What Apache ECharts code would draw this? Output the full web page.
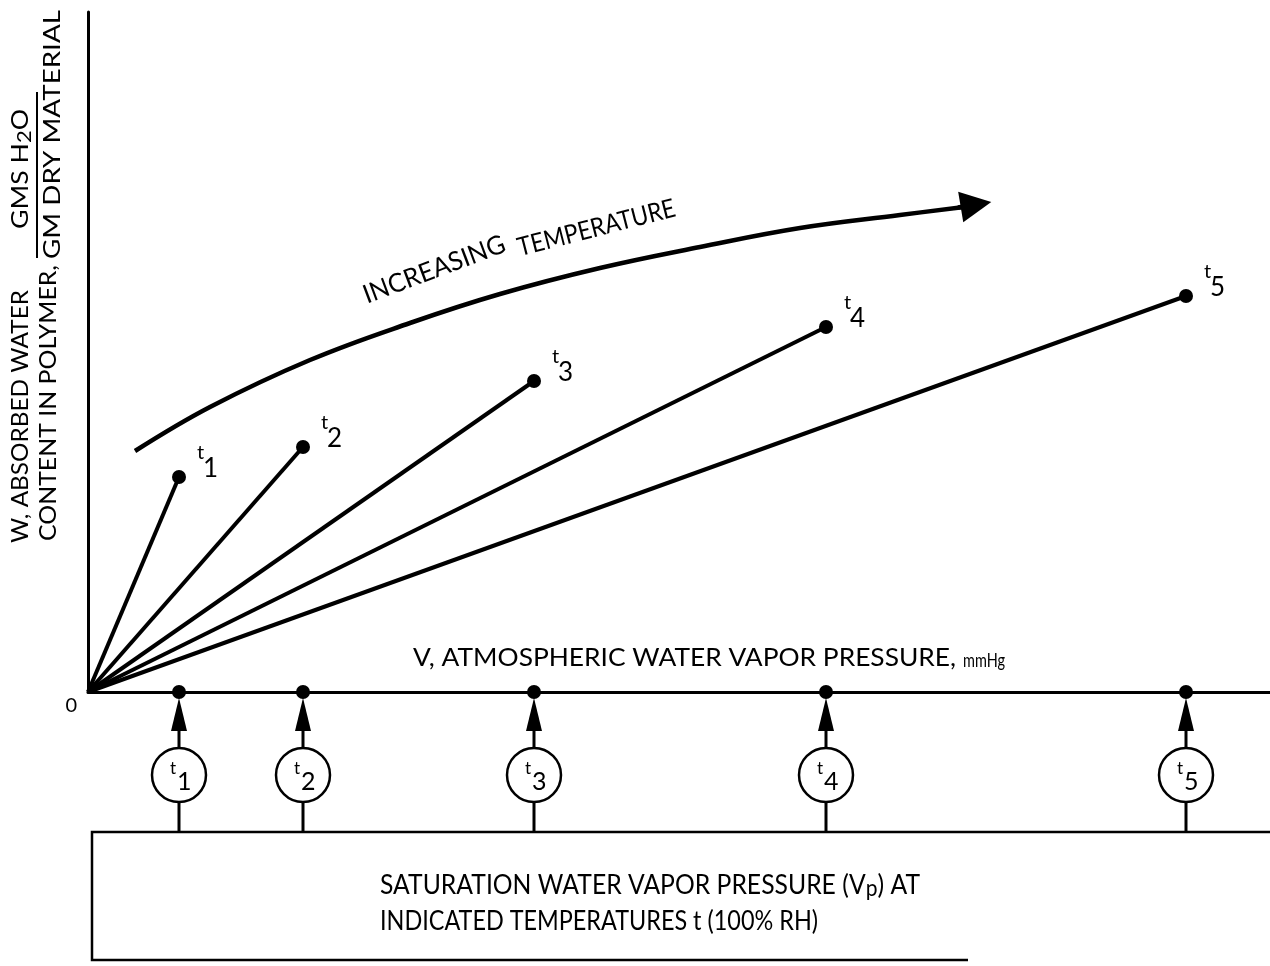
<!DOCTYPE html>
<html><head><meta charset="utf-8">
<script src="https://cdn.jsdelivr.net/npm/echarts@6/dist/echarts.min.js"></script>
<style>html,body{margin:0;padding:0;background:#fff}#c{width:1270px;height:966px}</style>
</head><body><div id="c"></div>
<script>
// ---- data (schematic, arbitrary units) ----
const tempIndex = ['1', '2', '3', '4', '5'];
const saturationPressure = [91, 215, 446, 738, 1098];   // Vp at t1..t5
const absorbedWater = [215, 245, 311, 365, 396];        // W at Vp for t1..t5
const trendCurve = [[47, 241], [122, 285], [222, 332], [322, 369], [412, 398], [512, 424], [612, 445], [712, 464], [812, 477], [876, 485]];
const trendArrow = [[870, 484.5], [888, 487.5]];
const xName = 'V, ATMOSPHERIC WATER VAPOR PRESSURE,';
const xUnit = 'mmHg';
const yNameLine1 = 'W, ABSORBED WATER';
const yNameLine2 = 'CONTENT IN POLYMER,';
const yNumer = ['GMS H', '2', 'O'];
const yDenom = 'GM DRY MATERIAL';
const trendWords = ['INCREASING', 'TEMPERATURE'];
const boxLine1 = ['SATURATION WATER VAPOR PRESSURE (V', 'p', ') AT'];
const boxLine2 = 'INDICATED TEMPERATURES t (100% RH)';
const X_MAX = 1182, Y_MAX = 680;

const FONT = 'Lato';
const chart = echarts.init(document.getElementById('c'), null, {renderer: 'canvas'});

// text width measuring (layout helper)
const mctx = document.createElement('canvas').getContext('2d');
function textW(s, size) { mctx.font = size + 'px ' + FONT; return mctx.measureText(s).width; }

const tRich = {
  t: {fontFamily: FONT, fontSize: 20, lineHeight: 10, color: '#000'},
  d: {fontFamily: FONT, fontSize: 26, lineHeight: 22, color: '#000', padding: [0, 0, 0, 6]}
};
const cRich = {
  t: {fontFamily: FONT, fontSize: 17, lineHeight: 14, fill: '#000'},
  d: {fontFamily: FONT, fontSize: 25, lineHeight: 12, fill: '#000', padding: [0, 0, 0, 7]}
};

const lineSeries = saturationPressure.map((vp, i) => ({
  type: 'line',
  name: 't' + tempIndex[i],
  data: [[0, 0], [vp, absorbedWater[i]]],
  symbol: 'circle',
  symbolSize: (v, p) => p.dataIndex === 0 ? 0 : 14,
  showAllSymbol: true,
  lineStyle: {color: '#000', width: 4},
  itemStyle: {color: '#000'},
  silent: true,
  z: 3,
  label: {
    show: true, position: 'right', distance: 4, offset: [7, -13],
    formatter: p => p.dataIndex === 1 ? '{t|t}\n{d|' + tempIndex[i] + '}' : '',
    rich: tRich
  }
}));

const bottomSeries = {
  type: 'custom',
  silent: true,
  clip: false,
  z: 4,
  data: saturationPressure.map((v, i) => [v, 0, i]),
  renderItem: function (params, api) {
    const p = api.coord([api.value(0), 0]);
    const x = p[0], y = p[1];
    const idx = api.value(2);
    const cy = y + 83, r = 27;
    const boxTop = 832;
    return {
      type: 'group',
      children: [
        {type: 'line', shape: {x1: x, y1: y + 30, x2: x, y2: cy - r}, style: {stroke: '#000', lineWidth: 3}},
        {type: 'polygon', shape: {points: [[x, y + 6], [x - 8, y + 39], [x + 8, y + 39]]}, style: {fill: '#000'}},
        {type: 'circle', shape: {cx: x, cy: cy, r: r}, style: {fill: '#fff', stroke: '#000', lineWidth: 2.5}},
        {type: 'text', x: x - 9, y: cy, style: {text: '{t|t}\n{d|' + tempIndex[idx] + '}', rich: cRich, align: 'left', verticalAlign: 'middle', fill: '#000'}},
        {type: 'line', shape: {x1: x, y1: cy + r, x2: x, y2: boxTop}, style: {stroke: '#000', lineWidth: 3}},
        {type: 'circle', shape: {cx: x, cy: y, r: 7}, style: {fill: '#000'}}
      ]
    };
  }
};

const trendSeries = {
  type: 'line',
  data: trendCurve,
  smooth: 0.4,
  symbol: 'none',
  lineStyle: {color: '#000', width: 4.5},
  silent: true,
  z: 2
};
const arrowSeries = {
  type: 'lines',
  coordinateSystem: 'cartesian2d',
  data: [{coords: trendArrow}],
  symbol: ['none', 'triangle'],
  symbolSize: [17, 31],
  lineStyle: {color: '#000', width: 4.5, opacity: 1},
  silent: true,
  z: 2
};

// text fitted to a given run length (scaleX along its own direction)
function fitTxt(x, y, text, size, length, rotDeg) {
  return {
    type: 'text', x: x, y: y, rotation: (rotDeg || 0) * Math.PI / 180, scaleX: length / textW(text, size), silent: true,
    style: {text: text, fontFamily: FONT, fontSize: size, fill: '#000', align: 'left', verticalAlign: 'middle'}
  };
}

const Y_FONT = 23;
const BOX_FONT = 27;
const numerW = textW(yNumer[0], Y_FONT) + textW(yNumer[1], 19) + textW(yNumer[2], Y_FONT);
const box1W = textW(boxLine1[0], BOX_FONT) + textW(boxLine1[1], 23) + textW(boxLine1[2], BOX_FONT);

const option = {
  animation: false,
  backgroundColor: '#fff',
  grid: {left: 88, right: 0, top: 12, bottom: 274, containLabel: false},
  xAxis: {
    type: 'value', min: 0, max: X_MAX,
    axisLine: {show: true, onZero: true, lineStyle: {color: '#000', width: 3}},
    axisTick: {show: false}, axisLabel: {show: false}, splitLine: {show: false}
  },
  yAxis: {
    type: 'value', min: 0, max: Y_MAX, interval: Y_MAX,
    axisLine: {show: true, lineStyle: {color: '#000', width: 3}},
    axisTick: {show: false}, splitLine: {show: false},
    axisLabel: {show: true, formatter: v => v === 0 ? '0' : '', color: '#000', fontFamily: FONT, fontSize: 20, verticalAlign: 'top', padding: [4, 0, 0, 0], margin: 11}
  },
  series: [trendSeries, arrowSeries].concat(lineSeries, [bottomSeries]),
  graphic: [
    // y-axis name (rotated)
    fitTxt(21, 543, yNameLine1, Y_FONT, 253, 90),
    fitTxt(49, 541, yNameLine2, Y_FONT, 276, 90),
    {
      type: 'text', x: 21, y: 229, rotation: Math.PI / 2, scaleX: 120 / numerW, silent: true,
      style: {
        text: '{a|' + yNumer[0] + '}{s|' + yNumer[1] + '}{a|' + yNumer[2] + '}',
        align: 'left', verticalAlign: 'middle', fill: '#000',
        rich: {
          a: {fontFamily: FONT, fontSize: Y_FONT, lineHeight: 26},
          s: {fontFamily: FONT, fontSize: 19, lineHeight: 16, padding: [15, 0, 0, 0], verticalAlign: 'bottom'}
        }
      }
    },
    {type: 'line', silent: true, shape: {x1: 37, y1: 258, x2: 37, y2: 92}, style: {stroke: '#000', lineWidth: 2}},
    fitTxt(53, 259, yDenom, Y_FONT, 249, 90),
    // x-axis name
    fitTxt(413, 658, xName, 25, 543, 0),
    fitTxt(963, 661, xUnit, 19, 42, 0),
    // increasing temperature
    fitTxt(364, 296, trendWords[0], 26, 150, 20.6),
    fitTxt(518, 248, trendWords[1], 26, 162, 14.4),
    // box
    {type: 'polyline', silent: true, shape: {points: [[1270, 832], [92, 832], [92, 960], [968, 960]]}, style: {stroke: '#000', lineWidth: 2.5, fill: null}},
    {
      type: 'text', x: 380, y: 885, scaleX: 540 / box1W, silent: true,
      style: {
        text: '{a|' + boxLine1[0] + '}{p|' + boxLine1[1] + '}{a|' + boxLine1[2] + '}',
        align: 'left', verticalAlign: 'middle', fill: '#000',
        rich: {
          a: {fontFamily: FONT, fontSize: BOX_FONT, lineHeight: 30},
          p: {fontFamily: FONT, fontSize: 23, lineHeight: 18, padding: [22, 0, 0, 0], verticalAlign: 'bottom'}
        }
      }
    },
    fitTxt(380, 921, boxLine2, BOX_FONT, 438, 0)
  ]
};
chart.setOption(option);
</script></body></html>
